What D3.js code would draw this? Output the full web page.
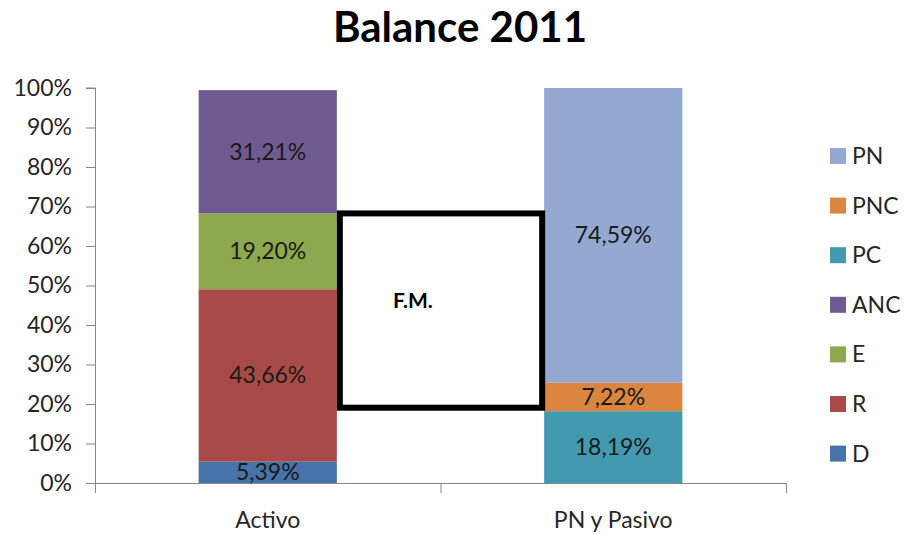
<!DOCTYPE html>
<html>
<head>
<meta charset="utf-8">
<script src="https://cdn.jsdelivr.net/npm/d3@7"></script>
<style>
  body { margin: 0; background: #fff; }
  text { font-family: Lato, "Open Sans", sans-serif; }
</style>
</head>
<body>
<svg id="chart" width="905" height="535"></svg>
<script>
// datos del balance
var categories = ["Activo", "PN y Pasivo"];
var seriesNames = ["D", "R", "E", "ANC", "PC", "PNC", "PN"];
var seriesCategory = ["Activo", "Activo", "Activo", "Activo", "PN y Pasivo", "PN y Pasivo", "PN y Pasivo"];
var seriesValues = [5.39, 43.66, 19.20, 31.21, 18.19, 7.22, 74.59];
var seriesColors = ["#4673a8", "#a84a47", "#8ea84f", "#705b91", "#4399b0", "#db853f", "#94a9d1"];
var legendOrder = ["PN", "PNC", "PC", "ANC", "E", "R", "D"];
var yTicks = [0, 10, 20, 30, 40, 50, 60, 70, 80, 90, 100];
// caja F.M. (de arriba de E hasta aprox. 19%)
var fmTop = 68.25, fmBottom = 19.06;

var svg = d3.select("#chart");
var margin = {left: 95, right: 119, top: 88, bottom: 52};
var width = 905 - margin.left - margin.right,
	height = 535 - margin.top - margin.bottom;

var g = svg.append("g").attr("transform", "translate(" + margin.left + "," + margin.top + ")");

var x = d3.scaleBand().domain(categories).range([0, width]).paddingInner(0.6).paddingOuter(0.3);
var xOuter = d3.scaleBand().domain(categories).range([0, width]);
var y = d3.scaleLinear().domain([0, 100]).range([height, 0]);
var color = d3.scaleOrdinal().domain(seriesNames).range(seriesColors);

// titulo
svg.append("text")
	.attr("x", 460).attr("y", 42)
	.attr("text-anchor", "middle")
	.style("font-size", "42px").style("font-weight", "bold").style("fill", "#000")
	.text("Balance 2011");

// eje y
var yAxis = g.append("g")
	.call(d3.axisLeft(y).tickValues(yTicks).tickSize(9).tickPadding(14).tickFormat(function(d){ return d + "%"; }));
yAxis.select(".domain").attr("stroke", "#868686").attr("d", "M-9," + y(100) + "H0.5V" + (height + 10));
yAxis.selectAll(".tick line").attr("stroke", "#868686");
yAxis.selectAll(".tick text").style("font-size", "23px").style("fill", "#262626");

// eje x
var xAxisG = g.append("g").attr("transform", "translate(0," + height + ")");
xAxisG.append("line").attr("x1", 0).attr("x2", width).attr("y1", 0.5).attr("y2", 0.5).attr("stroke", "#868686");
xAxisG.selectAll(".xtick").data([0, xOuter.step(), width]).enter().append("line")
	.attr("x1", function(d){ return d + 0.5; }).attr("x2", function(d){ return d + 0.5; })
	.attr("y1", 0).attr("y2", 10).attr("stroke", "#868686");
xAxisG.selectAll(".xlabel").data(categories).enter().append("text")
	.attr("x", function(d){ return x(d) + x.bandwidth() / 2; })
	.attr("y", 45)
	.attr("text-anchor", "middle")
	.style("font-size", "23px").style("fill", "#262626")
	.text(function(d){ return d; });

// barras apiladas
var stacks = {};
var segs = seriesNames.map(function(name, i){
	var cat = seriesCategory[i];
	var base = stacks[cat] || 0;
	stacks[cat] = base + seriesValues[i];
	return {name: name, cat: cat, y0: base, y1: base + seriesValues[i], value: seriesValues[i]};
});

g.selectAll(".seg").data(segs).enter().append("rect")
	.attr("x", function(d){ return x(d.cat); })
	.attr("width", x.bandwidth())
	.attr("y", function(d){ return y(d.y1); })
	.attr("height", function(d){ return y(d.y0) - y(d.y1); })
	.style("fill", function(d){ return color(d.name); });

g.selectAll(".lbl").data(segs).enter().append("text")
	.attr("x", function(d){ return x(d.cat) + x.bandwidth() / 2; })
	.attr("y", function(d){ return (y(d.y0) + y(d.y1)) / 2 + 8; })
	.attr("text-anchor", "middle")
	.style("font-size", "23px").style("fill", "#1a1a1a")
	.text(function(d){ return d.value.toFixed(2).replace(".", ",") + "%"; });

// caja F.M.
var fmX0 = x("Activo") + x.bandwidth() + 3,
	fmX1 = x("PN y Pasivo") - 2;
g.append("rect")
	.attr("x", fmX0).attr("y", y(fmTop))
	.attr("width", fmX1 - fmX0).attr("height", y(fmBottom) - y(fmTop))
	.style("fill", "#fff").style("stroke", "#000").style("stroke-width", 6);
g.append("text")
	.attr("x", fmX0 + 73).attr("y", y(fmTop) + 95)
	.attr("text-anchor", "middle")
	.style("font-size", "21px").style("font-weight", "bold").style("fill", "#000")
	.text("F.M.");

// leyenda
var legend = svg.append("g").attr("transform", "translate(830,148)");
var li = legend.selectAll(".li").data(legendOrder).enter().append("g")
	.attr("transform", function(d, i){ return "translate(0," + (i * 49.6) + ")"; });
li.append("rect").attr("width", 16).attr("height", 16).style("fill", function(d){ return color(d); });
li.append("text").attr("x", 22).attr("y", 16)
	.style("font-size", "23px").style("fill", "#262626")
	.text(function(d){ return d; });
</script>
</body>
</html>
